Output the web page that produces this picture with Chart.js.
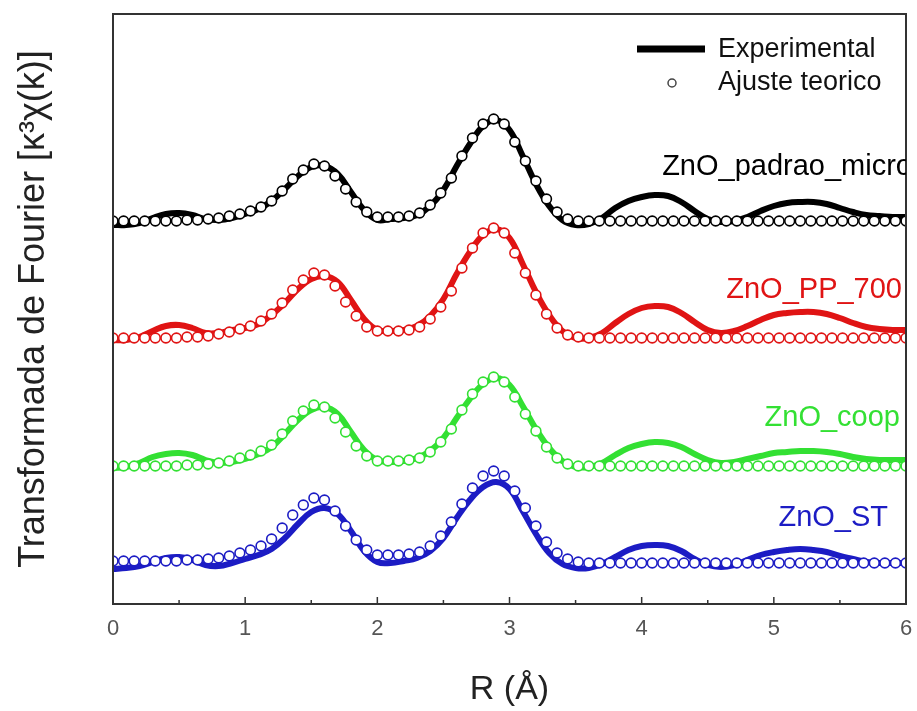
<!DOCTYPE html>
<html>
<head>
<meta charset="utf-8">
<script src="https://cdn.jsdelivr.net/npm/chart.js@4.4.1/dist/chart.umd.min.js"></script>
<style>
  html, body { margin: 0; padding: 0; background: #fff; }
  #wrap { width: 917px; height: 711px; }
</style>
</head>
<body>
<div id="wrap"><canvas id="chart" width="917" height="711"></canvas></div>
<script>
// R values (Å) of the fitted points and of the experimental curves
const rFit = [0, 0.08, 0.16, 0.24, 0.32, 0.40, 0.48, 0.56, 0.64, 0.72, 0.80, 0.88, 0.96, 1.04, 1.12, 1.20, 1.28, 1.36, 1.44, 1.52,
    1.60, 1.68, 1.76, 1.84, 1.92, 2.00, 2.08, 2.16, 2.24, 2.32, 2.40, 2.48, 2.56, 2.64, 2.72, 2.80, 2.88, 2.96, 3.04, 3.12,
    3.20, 3.28, 3.36, 3.44, 3.52, 3.60, 3.68, 3.76, 3.84, 3.92, 4.00, 4.08, 4.16, 4.24, 4.32, 4.40, 4.48, 4.56, 4.64, 4.72,
    4.80, 4.88, 4.96, 5.04, 5.12, 5.20, 5.28, 5.36, 5.44, 5.52, 5.60, 5.68, 5.76, 5.84, 5.92, 6.00];
const rExp = [0, 0.1, 0.2, 0.3, 0.4, 0.5, 0.6, 0.7, 0.8, 0.9, 1.0, 1.1, 1.2, 1.3, 1.4, 1.5, 1.6, 1.7, 1.8, 1.9,
    2.0, 2.1, 2.2, 2.3, 2.4, 2.5, 2.6, 2.7, 2.8, 2.9, 3.0, 3.1, 3.2, 3.3, 3.4, 3.5, 3.6, 3.7, 3.8, 3.9,
    4.0, 4.1, 4.2, 4.3, 4.4, 4.5, 4.6, 4.7, 4.8, 4.9, 5.0, 5.1, 5.2, 5.3, 5.4, 5.5, 5.6, 5.7, 5.8, 5.9, 6.0];

// experimental |FT| curves (stacked, arbitrary units)
const expPadrao = [379, 379, 381, 386, 390, 391, 389, 385, 384, 386, 390, 395, 403, 415, 428, 437, 438, 430, 412, 394,
    384, 385, 386, 389, 398, 414, 438, 460, 478, 484, 474, 448, 420, 398, 384, 379, 380, 386, 396, 403,
    407, 409, 408, 402, 393, 385, 382, 383, 387, 393, 398, 401, 402, 402, 400, 396, 392, 389, 388, 387, 387];
const expPP700 = [264, 264, 267, 273, 278, 279, 276, 271, 271, 274, 276, 280, 289, 301, 315, 325, 328, 322, 304, 285,
    274, 273, 274, 278, 288, 305, 330, 352, 369, 375, 366, 340, 312, 289, 273, 266, 266, 271, 281, 290,
    296, 298, 297, 291, 282, 274, 271, 273, 278, 284, 289, 291, 292, 292, 290, 286, 281, 277, 275, 274, 274];
const expCoop = [136, 137, 141, 147, 150, 151, 149, 144, 141, 142, 145, 150, 157, 170, 184, 194, 197, 190, 172, 154,
    144, 142, 143, 146, 153, 166, 186, 205, 220, 226, 219, 198, 175, 156, 143, 137, 137, 141, 149, 156,
    160, 162, 161, 157, 150, 144, 141, 142, 145, 148, 151, 152, 153, 153, 152, 150, 147, 145, 144, 144, 144];
const expST = [35, 36, 38, 42, 46, 47, 44, 39, 38, 41, 45, 49, 55, 66, 80, 92, 96, 90, 73, 53,
    42, 41, 43, 46, 53, 66, 86, 104, 117, 122, 115, 93, 70, 51, 40, 36, 36, 40, 47, 54,
    58, 59, 58, 53, 45, 39, 37, 39, 44, 49, 52, 54, 55, 54, 52, 48, 45, 42, 41, 41, 41];

// theoretical fit points
const fitPadrao = [383, 383, 383, 383, 383, 383, 383, 384, 384, 385, 386, 388, 390, 393, 397, 403, 413, 425, 434, 440,
    438, 428, 415, 402, 392, 387, 387, 387, 388, 391, 399, 411, 426, 448, 466, 480, 485, 480, 462, 443,
    423, 405, 392, 385, 383, 383, 383, 383, 383, 383, 383, 383, 383, 383, 383, 383, 383, 383, 383, 383,
    383, 383, 383, 383, 383, 383, 383, 383, 383, 383, 383, 383, 383, 383, 383, 383];
const fitPP700 = [266, 266, 266, 266, 266, 266, 266, 267, 267, 268, 270, 272, 275, 278, 283, 290, 301, 314, 324, 331,
    329, 318, 302, 288, 277, 273, 273, 273, 274, 277, 285, 297, 313, 336, 356, 371, 376, 371, 351, 331,
    309, 290, 276, 269, 267, 266, 266, 266, 266, 266, 266, 266, 266, 266, 266, 266, 266, 266, 266, 266,
    266, 266, 266, 266, 266, 266, 266, 266, 266, 266, 266, 266, 266, 266, 266, 266];
const fitCoop = [138, 138, 138, 138, 138, 138, 138, 139, 139, 140, 141, 143, 146, 149, 153, 159, 170, 183, 193, 199,
    197, 186, 172, 158, 148, 143, 143, 143, 144, 146, 152, 162, 175, 194, 210, 222, 227, 222, 207, 190,
    173, 157, 146, 140, 138, 138, 138, 138, 138, 138, 138, 138, 138, 138, 138, 138, 138, 138, 138, 138,
    138, 138, 138, 138, 138, 138, 138, 138, 138, 138, 138, 138, 138, 138, 138, 138];
const fitST = [43, 43, 43, 43, 43, 43, 43, 44, 44, 45, 46, 48, 51, 54, 58, 65, 76, 89, 99, 106,
    104, 93, 78, 64, 54, 49, 49, 49, 50, 52, 58, 68, 82, 100, 116, 128, 133, 128, 113, 96,
    78, 62, 51, 45, 42, 41, 41, 41, 41, 41, 41, 41, 41, 41, 41, 41, 41, 41, 41, 41,
    41, 41, 41, 41, 41, 41, 41, 41, 41, 41, 41, 41, 41, 41, 41, 41];

const sampleNames = ["ZnO_padrao_micro", "ZnO_PP_700", "ZnO_coop", "ZnO_ST"];
const sampleColors = ["#000000", "#e01414", "#33e033", "#1c1cc4"];
const sampleLabelY = [167, 290, 418, 518];
const sampleLabelRight = [912, 902, 900, 888];
const xTicks = [0, 1, 2, 3, 4, 5, 6];

const expSets = [expPadrao, expPP700, expCoop, expST];
const fitSets = [fitPadrao, fitPP700, fitCoop, fitST];

function toPoints(xs, ys) {
    return xs.map((x, i) => ({ x: x, y: ys[i] }));
}

let datasets = [];
sampleNames.forEach((name, i) => {
    datasets.push({
        label: name + " exp",
        data: toPoints(rExp, expSets[i]),
        borderColor: sampleColors[i],
        borderWidth: 6,
        pointRadius: 0,
        tension: 0.4,
        fill: false,
        order: 2
    });
    datasets.push({
        label: name + " fit",
        data: toPoints(rFit, fitSets[i]),
        showLine: false,
        pointRadius: 4.9,
        pointBorderWidth: 1.6,
        pointBorderColor: sampleColors[i],
        pointBackgroundColor: "#ffffff",
        order: 1
    });
});

const decor = {
    id: "decor",
    afterDraw(chart) {
        const ctx = chart.ctx;
        const a = chart.chartArea;
        const xs = chart.scales.x;
        ctx.save();

        // inner ticks on the bottom axis
        ctx.strokeStyle = "#333";
        ctx.lineWidth = 1.5;
        for (let v = 0.5; v < 6; v += 0.5) {
            const px = xs.getPixelForValue(v);
            const len = Number.isInteger(v) ? 7 : 4;
            ctx.beginPath();
            ctx.moveTo(px, a.bottom);
            ctx.lineTo(px, a.bottom - len);
            ctx.stroke();
        }

        // frame
        ctx.strokeStyle = "#333";
        ctx.lineWidth = 2;
        ctx.strokeRect(a.left, a.top, a.right - a.left, a.bottom - a.top);

        // sample names
        ctx.beginPath();
        ctx.rect(a.left, a.top, a.right - a.left, a.bottom - a.top);
        ctx.clip();
        ctx.font = "29px 'Liberation Sans', Arial, sans-serif";
        ctx.textAlign = "right";
        ctx.textBaseline = "middle";
        sampleNames.forEach((name, i) => {
            ctx.fillStyle = sampleColors[i];
            ctx.fillText(name, sampleLabelRight[i], sampleLabelY[i]);
        });

        // legend
        ctx.strokeStyle = "#000";
        ctx.lineWidth = 7;
        ctx.beginPath();
        ctx.moveTo(637, 49);
        ctx.lineTo(705, 49);
        ctx.stroke();
        ctx.lineWidth = 1.5;
        ctx.strokeStyle = "#444";
        ctx.fillStyle = "#fff";
        ctx.beginPath();
        ctx.arc(672, 83, 4, 0, Math.PI * 2);
        ctx.fill();
        ctx.stroke();
        ctx.fillStyle = "#111";
        ctx.textAlign = "left";
        ctx.font = "27px 'Liberation Sans', Arial, sans-serif";
        ctx.fillText("Experimental", 718, 50);
        ctx.fillText("Ajuste teorico", 718, 83);
        ctx.restore();
    }
};

new Chart(document.getElementById("chart"), {
    type: "line",
    data: { datasets },
    options: {
        responsive: false,
        animation: false,
        layout: { padding: { top: 14, right: 11, left: 0, bottom: 0 } },
        plugins: {
            legend: { display: false },
            tooltip: { enabled: false }
        },
        scales: {
            x: {
                type: "linear",
                min: 0,
                max: 6,
                afterBuildTicks: s => { s.ticks = xTicks.map(v => ({ value: v })); },
                afterFit: s => {
                    s.height = 107;
                    s.paddingLeft = 0;
                    s.paddingRight = 0;
                },
                grid: { display: false, drawTicks: false },
                border: { display: false },
                ticks: {
                    padding: 12,
                    color: "#555",
                    font: { family: "'Liberation Sans Narrow', 'Liberation Sans', sans-serif", size: 22 }
                },
                title: {
                    display: true,
                    text: "R (Å)",
                    color: "#222",
                    font: { family: "'Liberation Sans', Arial, sans-serif", size: 34 },
                    padding: { top: 0, bottom: 1 }
                }
            },
            y: {
                min: 0,
                max: 590,
                afterFit: s => { s.width = 113; },
                grid: { display: false, drawTicks: false },
                border: { display: false },
                ticks: { display: false },
                title: {
                    display: true,
                    text: "Transformada de Fourier [κ³χ(k)]",
                    color: "#222",
                    font: { family: "'Liberation Sans', Arial, sans-serif", size: 36 },
                    padding: { top: 12, bottom: 0 }
                }
            }
        }
    },
    plugins: [decor]
});
</script>
</body>
</html>
